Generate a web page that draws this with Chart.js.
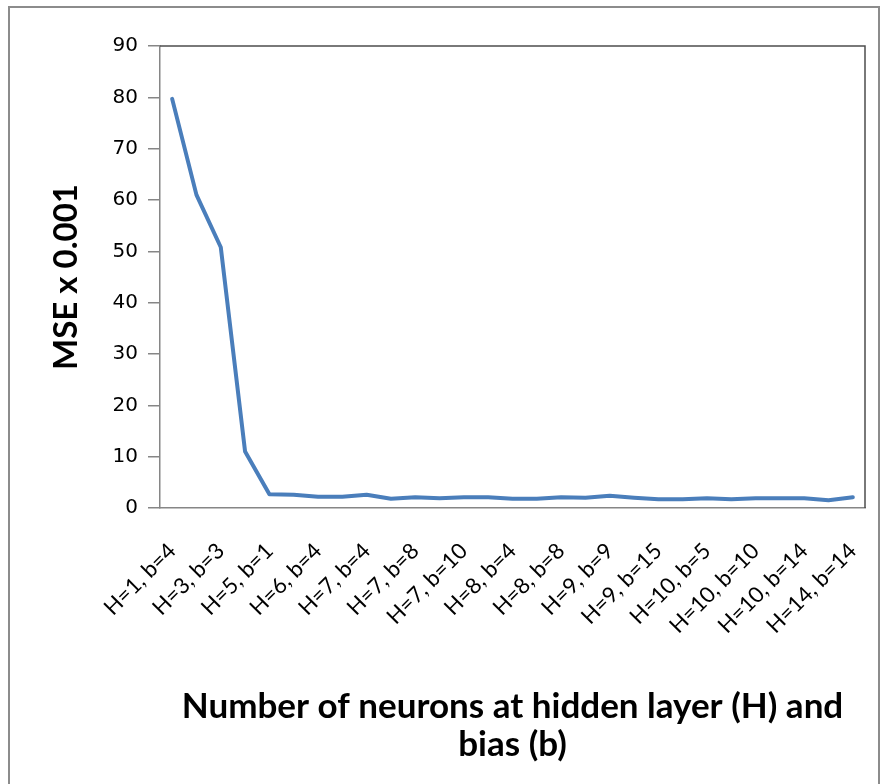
<!DOCTYPE html>
<html>
<head>
<meta charset="utf-8">
<script src="https://cdn.jsdelivr.net/npm/chart.js@4.4.1/dist/chart.umd.min.js"></script>
<style>
  html, body { margin: 0; padding: 0; background: #fff; }
  #wrap { position: relative; width: 889px; height: 784px; }
</style>
</head>
<body>
<div id="wrap"><canvas id="chart" width="889" height="784"></canvas></div>
<script>
// categories (only every other label is printed on the axis)
const categories = [
  "H=1, b=4", "H=2, b=4", "H=3, b=3", "H=4, b=2", "H=5, b=1", "H=5, b=8",
  "H=6, b=4", "H=6, b=9", "H=7, b=4", "H=7, b=6", "H=7, b=8", "H=7, b=9",
  "H=7, b=10", "H=8, b=2", "H=8, b=4", "H=8, b=6", "H=8, b=8", "H=9, b=4",
  "H=9, b=9", "H=9, b=12", "H=9, b=15", "H=10, b=2", "H=10, b=5", "H=10, b=8",
  "H=10, b=10", "H=10, b=12", "H=10, b=14", "H=12, b=14", "H=14, b=14",
];

// MSE x 0.001
const mseValues = [
  79.7, 61.0, 50.8, 11.0, 2.7, 2.6, 2.2, 2.2, 2.6, 1.8, 2.1, 1.9, 2.1, 2.1, 1.8,
  1.8, 2.1, 2.0, 2.4, 2.0, 1.7, 1.7, 1.9, 1.7, 1.9, 1.9, 1.9, 1.5, 2.1,
];

const yMin = 0;
const yMax = 90;
const yStep = 10;

const yTitle = "MSE x 0.001";
const xTitle = ["Number of neurons at hidden layer (H) and", "bias (b)"];

const AXIS_GREY = "#868686";

// outer chart frame + dark top/right edges of the plot area
const framePlugin = {
  id: "frame",
  beforeDatasetsDraw(chart) {
    const { ctx, chartArea: a } = chart;
    ctx.save();
    ctx.strokeStyle = "#4d4d4d";
    ctx.lineWidth = 1.5;
    ctx.beginPath();
    ctx.moveTo(a.left, a.top);
    ctx.lineTo(a.right, a.top);
    ctx.lineTo(a.right, a.bottom);
    ctx.stroke();
    ctx.restore();
  },
  afterDraw(chart) {
    const { ctx } = chart;
    ctx.save();
    ctx.strokeStyle = "#8c8c8c";
    ctx.lineWidth = 2;
    ctx.strokeRect(9, 7, 870, 820);
    ctx.restore();
  },
};

new Chart(document.getElementById("chart"), {
  type: "line",
  data: {
    labels: categories,
    datasets: [
      {
        label: yTitle,
        data: mseValues,
        borderColor: "#4a7ebb",
        borderWidth: 4,
        borderCapStyle: "round",
        borderJoinStyle: "round",
        pointRadius: 0,
        tension: 0,
        fill: false,
      },
    ],
  },
  options: {
    responsive: false,
    animation: false,
    devicePixelRatio: 1,
    layout: { padding: { left: 36, top: 46, right: 24, bottom: 0 } },
    plugins: {
      legend: { display: false },
      tooltip: { enabled: false },
    },
    scales: {
      x: {
        offset: true,
        grid: { display: false, drawTicks: false },
        border: { color: AXIS_GREY, width: 1.5 },
        ticks: {
          autoSkip: false,
          maxRotation: 45,
          minRotation: 45,
          padding: 30,
          color: "#000",
          font: { family: "Lato", size: 22 },
          callback: (value, index) => (index % 2 === 0 ? categories[index] : ""),
        },
        title: {
          display: true,
          text: xTitle,
          color: "#000",
          font: { family: "Lato", size: 35, weight: "bold", lineHeight: 1.09 },
          padding: { top: 0, bottom: 20 },
        },
        afterFit: (scale) => {
          scale.height = 784 - 508;
          scale.paddingLeft = 0;
          scale.paddingRight = 0;
        },
      },
      y: {
        min: yMin,
        max: yMax,
        grid: { drawOnChartArea: false, drawTicks: true, tickLength: 12, color: AXIS_GREY, lineWidth: 1.5 },
        border: { color: AXIS_GREY, width: 1.5 },
        ticks: {
          stepSize: yStep,
          padding: 10,
          color: "#000",
          font: { family: "DejaVu Sans", size: 20 },
        },
        title: {
          display: true,
          text: yTitle,
          color: "#000",
          font: { family: "Lato", size: 33, weight: "bold", lineHeight: 1.2 },
          padding: { top: 11, bottom: 0 },
        },
        afterFit: (scale) => {
          scale.width = 160 - 36;
          scale.paddingTop = 0;
          scale.paddingBottom = 0;
        },
      },
    },
  },
  plugins: [framePlugin],
});
</script>
</body>
</html>
